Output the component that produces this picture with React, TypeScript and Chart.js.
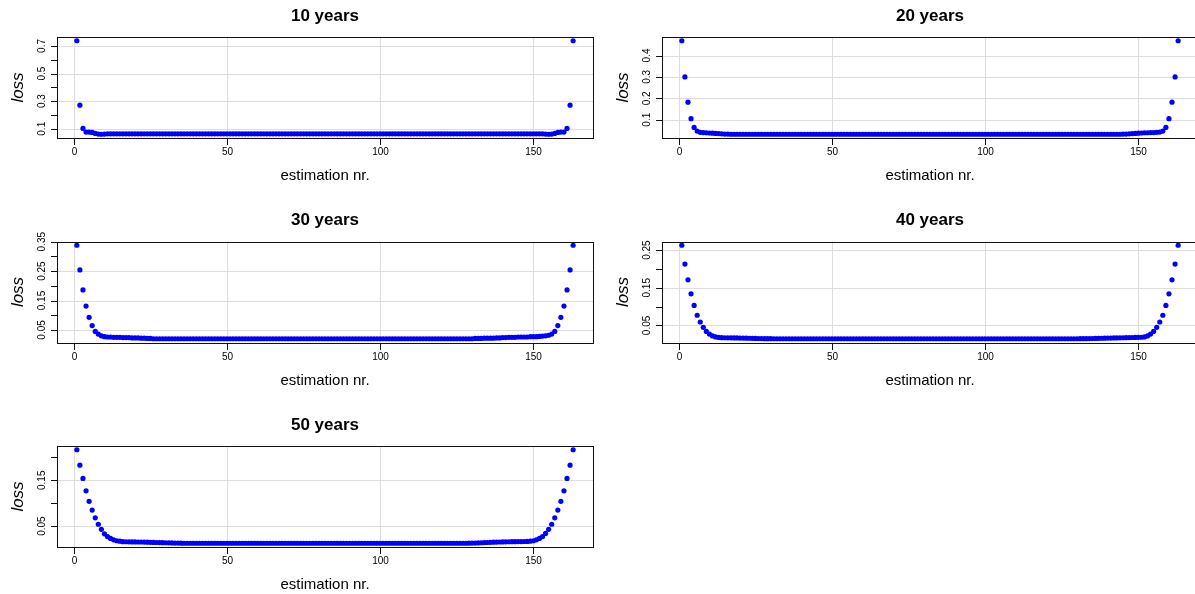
import React, { useEffect, useRef } from "react";
import { Chart, registerables } from "chart.js";

Chart.register(...registerables);

// ---------------- DATA ----------------
const panelTitles = ["10 years", "20 years", "30 years", "40 years", "50 years"];
const xTickValues = [0, 50, 100, 150];
const xAxisTitle = "estimation nr.";
const yAxisTitle = "loss";

const loss10 = [
  0.738, 0.271, 0.102, 0.076, 0.076, 0.073, 0.066, 0.061, 0.060, 0.061,
  0.063, 0.063, 0.063, 0.063, 0.063, 0.063, 0.063, 0.063, 0.063, 0.063,
  0.063, 0.063, 0.063, 0.063, 0.063, 0.063, 0.063, 0.063, 0.063, 0.063,
  0.063, 0.063, 0.063, 0.063, 0.063, 0.063, 0.063, 0.063, 0.063, 0.063,
  0.063, 0.063, 0.063, 0.063, 0.063, 0.063, 0.063, 0.063, 0.063, 0.063,
  0.063, 0.063, 0.063, 0.063, 0.063, 0.063, 0.063, 0.063, 0.063, 0.063,
  0.063, 0.063, 0.063, 0.063, 0.063, 0.063, 0.063, 0.063, 0.063, 0.063,
  0.063, 0.063, 0.063, 0.063, 0.063, 0.063, 0.063, 0.063, 0.063, 0.063,
  0.063, 0.063, 0.063, 0.063, 0.063, 0.063, 0.063, 0.063, 0.063, 0.063,
  0.063, 0.063, 0.063, 0.063, 0.063, 0.063, 0.063, 0.063, 0.063, 0.063,
  0.063, 0.063, 0.063, 0.063, 0.063, 0.063, 0.063, 0.063, 0.063, 0.063,
  0.063, 0.063, 0.063, 0.063, 0.063, 0.063, 0.063, 0.063, 0.063, 0.063,
  0.063, 0.063, 0.063, 0.063, 0.063, 0.063, 0.063, 0.063, 0.063, 0.063,
  0.063, 0.063, 0.063, 0.063, 0.063, 0.063, 0.063, 0.063, 0.063, 0.063,
  0.063, 0.063, 0.063, 0.063, 0.063, 0.063, 0.063, 0.063, 0.063, 0.063,
  0.063, 0.063, 0.063,
  0.061, 0.060, 0.061, 0.066, 0.073, 0.076, 0.076, 0.102, 0.271, 0.738,
];

const loss20 = [
  0.469, 0.300, 0.182, 0.105, 0.064, 0.047, 0.041, 0.040, 0.039, 0.038,
  0.037, 0.036, 0.035, 0.034, 0.033, 0.033,
  0.032, 0.032, 0.032, 0.032, 0.032, 0.032, 0.032, 0.032, 0.032, 0.032,
  0.032, 0.032, 0.032, 0.032, 0.032, 0.032, 0.032, 0.032, 0.032, 0.032,
  0.032, 0.032, 0.032, 0.032, 0.032, 0.032, 0.032, 0.032, 0.032, 0.032,
  0.032, 0.032, 0.032, 0.032, 0.032, 0.032, 0.032, 0.032, 0.032, 0.032,
  0.032, 0.032, 0.032, 0.032, 0.032, 0.032, 0.032, 0.032, 0.032, 0.032,
  0.032, 0.032, 0.032, 0.032, 0.032, 0.032, 0.032, 0.032, 0.032, 0.032,
  0.032, 0.032, 0.032, 0.032, 0.032, 0.032, 0.032, 0.032, 0.032, 0.032,
  0.032, 0.032, 0.032, 0.032, 0.032, 0.032, 0.032, 0.032, 0.032, 0.032,
  0.032, 0.032, 0.032, 0.032, 0.032, 0.032, 0.032, 0.032, 0.032, 0.032,
  0.032, 0.032, 0.032, 0.032, 0.032, 0.032, 0.032, 0.032, 0.032, 0.032,
  0.032, 0.032, 0.032, 0.032, 0.032, 0.032, 0.032, 0.032, 0.032, 0.032,
  0.032, 0.032, 0.032, 0.032, 0.032, 0.032, 0.032, 0.032, 0.032, 0.032,
  0.032, 0.032, 0.032, 0.032, 0.032, 0.032, 0.032, 0.032,
  0.033, 0.033, 0.034, 0.035, 0.036, 0.037, 0.038, 0.039, 0.039, 0.040,
  0.040, 0.041, 0.042, 0.047, 0.064, 0.105, 0.182, 0.300, 0.469,
];

const loss30 = [
  0.338, 0.254, 0.186, 0.131, 0.093, 0.065, 0.045, 0.036, 0.030, 0.027,
  0.026, 0.026, 0.025, 0.025, 0.025, 0.024, 0.024, 0.024, 0.023, 0.023,
  0.023, 0.022, 0.022, 0.021, 0.021,
  0.020, 0.020, 0.020, 0.020, 0.020, 0.020, 0.020, 0.020, 0.020, 0.020,
  0.020, 0.020, 0.020, 0.020, 0.020, 0.020, 0.020, 0.020, 0.020, 0.020,
  0.020, 0.020, 0.020, 0.020, 0.020, 0.020, 0.020, 0.020, 0.020, 0.020,
  0.020, 0.020, 0.020, 0.020, 0.020, 0.020, 0.020, 0.020, 0.020, 0.020,
  0.020, 0.020, 0.020, 0.020, 0.020, 0.020, 0.020, 0.020, 0.020, 0.020,
  0.020, 0.020, 0.020, 0.020, 0.020, 0.020, 0.020, 0.020, 0.020, 0.020,
  0.020, 0.020, 0.020, 0.020, 0.020, 0.020, 0.020, 0.020, 0.020, 0.020,
  0.020, 0.020, 0.020, 0.020, 0.020, 0.020, 0.020, 0.020, 0.020, 0.020,
  0.020, 0.020, 0.020, 0.020, 0.020, 0.020, 0.020, 0.020, 0.020, 0.020,
  0.020, 0.020, 0.020, 0.020, 0.020, 0.020, 0.020, 0.020, 0.020, 0.020,
  0.020, 0.020, 0.020, 0.020, 0.020,
  0.021, 0.021, 0.021, 0.022, 0.022, 0.022, 0.022, 0.023, 0.023, 0.024,
  0.024, 0.025, 0.025, 0.025, 0.026, 0.026, 0.026, 0.026, 0.027, 0.027,
  0.027, 0.028, 0.029, 0.030, 0.032, 0.036, 0.045, 0.065, 0.093, 0.131,
  0.186, 0.254, 0.338,
];

const loss40 = [
  0.263, 0.213, 0.171, 0.134, 0.103, 0.077, 0.059, 0.045, 0.034, 0.027,
  0.022, 0.0195, 0.018, 0.0175, 0.0172, 0.017, 0.017, 0.0168, 0.0166, 0.0164,
  0.0162, 0.016, 0.0158, 0.0156, 0.0154, 0.0152, 0.015, 0.0148, 0.0147, 0.0146,
  0.0145, 0.0145, 0.0145, 0.0145, 0.0145, 0.0145, 0.0145, 0.0145, 0.0145, 0.0145,
  0.0145, 0.0145, 0.0145, 0.0145, 0.0145, 0.0145, 0.0145, 0.0145, 0.0145, 0.0145,
  0.0145, 0.0145, 0.0145, 0.0145, 0.0145, 0.0145, 0.0145, 0.0145, 0.0145, 0.0145,
  0.0145, 0.0145, 0.0145, 0.0145, 0.0145, 0.0145, 0.0145, 0.0145, 0.0145, 0.0145,
  0.0145, 0.0145, 0.0145, 0.0145, 0.0145, 0.0145, 0.0145, 0.0145, 0.0145, 0.0145,
  0.0145, 0.0145, 0.0145, 0.0145, 0.0145, 0.0145, 0.0145, 0.0145, 0.0145, 0.0145,
  0.0145, 0.0145, 0.0145, 0.0145, 0.0145, 0.0145, 0.0145, 0.0145, 0.0145, 0.0145,
  0.0145, 0.0145, 0.0145, 0.0145, 0.0145, 0.0145, 0.0145, 0.0145, 0.0145, 0.0145,
  0.0145, 0.0145, 0.0145, 0.0145, 0.0145, 0.0145, 0.0145, 0.0145, 0.0145, 0.0145,
  0.0145, 0.0145, 0.0145, 0.0145, 0.0145, 0.0145, 0.0145, 0.0145, 0.0145, 0.0145,
  0.0146, 0.0147, 0.0148, 0.015, 0.0152, 0.0154, 0.0156, 0.0158, 0.016, 0.0162,
  0.0164, 0.0166, 0.0168, 0.017, 0.0172, 0.0174, 0.0176, 0.0178, 0.018, 0.0182,
  0.0185, 0.0195, 0.022, 0.027, 0.034, 0.045, 0.059, 0.077, 0.103, 0.134,
  0.171, 0.213, 0.263,
];

const loss50 = [
  0.2166, 0.183, 0.154, 0.127, 0.104, 0.085, 0.068, 0.054, 0.043, 0.033,
  0.027, 0.023, 0.020, 0.018,
  0.017, 0.016, 0.0158, 0.0156, 0.0155, 0.0154, 0.0153, 0.0152, 0.015, 0.0148,
  0.0146, 0.0144, 0.0142, 0.014, 0.0138, 0.0136, 0.0134, 0.0132, 0.013, 0.0128,
  0.0126,
  0.0125, 0.0125, 0.0125, 0.0125, 0.0125, 0.0125, 0.0125, 0.0125, 0.0125, 0.0125,
  0.0125, 0.0125, 0.0125, 0.0125, 0.0125, 0.0125, 0.0125, 0.0125, 0.0125, 0.0125,
  0.0125, 0.0125, 0.0125, 0.0125, 0.0125, 0.0125, 0.0125, 0.0125, 0.0125, 0.0125,
  0.0125, 0.0125, 0.0125, 0.0125, 0.0125, 0.0125, 0.0125, 0.0125, 0.0125, 0.0125,
  0.0125, 0.0125, 0.0125, 0.0125, 0.0125, 0.0125, 0.0125, 0.0125, 0.0125, 0.0125,
  0.0125, 0.0125, 0.0125, 0.0125, 0.0125, 0.0125, 0.0125, 0.0125, 0.0125, 0.0125,
  0.0125, 0.0125, 0.0125, 0.0125, 0.0125, 0.0125, 0.0125, 0.0125, 0.0125, 0.0125,
  0.0125, 0.0125, 0.0125, 0.0125, 0.0125, 0.0125, 0.0125, 0.0125, 0.0125, 0.0125,
  0.0125, 0.0125, 0.0125, 0.0125, 0.0125, 0.0125, 0.0125, 0.0125, 0.0125, 0.0125,
  0.0125, 0.0125, 0.0125,
  0.0126, 0.0128, 0.013, 0.0133, 0.0136, 0.0139, 0.0142, 0.0145, 0.0148, 0.015,
  0.0152, 0.0154, 0.0156, 0.0158, 0.0159, 0.016, 0.0161, 0.0162, 0.0163, 0.0165,
  0.017,
  0.018, 0.020, 0.023, 0.027, 0.034, 0.043, 0.054, 0.068, 0.085, 0.104,
  0.127, 0.154, 0.183, 0.2166,
];

const yTicks10 = [0.1, 0.2, 0.3, 0.4, 0.5, 0.6, 0.7];
const yLabels10 = [0.1, 0.3, 0.5, 0.7];
const yTicks20 = [0.1, 0.2, 0.3, 0.4];
const yLabels20 = [0.1, 0.2, 0.3, 0.4];
const yTicks30 = [0.05, 0.1, 0.15, 0.2, 0.25, 0.3, 0.35];
const yLabels30 = [0.05, 0.15, 0.25, 0.35];
const yTicks40 = [0.05, 0.1, 0.15, 0.2, 0.25];
const yLabels40 = [0.05, 0.15, 0.25];
const yTicks50 = [0.05, 0.1, 0.15, 0.2];
const yLabels50 = [0.05, 0.15];

// ---------------- LAYOUT ----------------
const CANVAS_W = 1230;
const CANVAS_H = 594;
const FONT = '"Liberation Sans", Arial, Helvetica, sans-serif';

type Panel = {
  title: string;
  values: number[];
  yTicks: number[];
  yLabels: number[];
  box: { left: number; right: number; top: number; bottom: number };
};

const COL_L = [57, 662];
const ROW_T = [37, 241.5, 446];
const BOX_W = 536;
const BOX_H = 101;

const panels: Panel[] = [
  { title: panelTitles[0], values: loss10, yTicks: yTicks10, yLabels: yLabels10, box: { left: COL_L[0], right: COL_L[0] + BOX_W, top: ROW_T[0], bottom: ROW_T[0] + BOX_H } },
  { title: panelTitles[1], values: loss20, yTicks: yTicks20, yLabels: yLabels20, box: { left: COL_L[1], right: COL_L[1] + BOX_W, top: ROW_T[0], bottom: ROW_T[0] + BOX_H } },
  { title: panelTitles[2], values: loss30, yTicks: yTicks30, yLabels: yLabels30, box: { left: COL_L[0], right: COL_L[0] + BOX_W, top: ROW_T[1], bottom: ROW_T[1] + BOX_H } },
  { title: panelTitles[3], values: loss40, yTicks: yTicks40, yLabels: yLabels40, box: { left: COL_L[1], right: COL_L[1] + BOX_W, top: ROW_T[1], bottom: ROW_T[1] + BOX_H } },
  { title: panelTitles[4], values: loss50, yTicks: yTicks50, yLabels: yLabels50, box: { left: COL_L[0], right: COL_L[0] + BOX_W, top: ROW_T[2], bottom: ROW_T[2] + BOX_H } },
];

const rStylePlugin = {
  id: "rstyle",
  beforeDatasetsDraw(chart: any, _args: any, opts: any) {
    const { ctx, chartArea: a, scales } = chart;
    const x = scales.x;
    const y = scales.y;
    ctx.save();
    ctx.strokeStyle = "#dedede";
    ctx.lineWidth = 1;
    for (const t of opts.xTicks) {
      const px = Math.round(x.getPixelForValue(t)) + 0.5;
      ctx.beginPath();
      ctx.moveTo(px, a.top);
      ctx.lineTo(px, a.bottom);
      ctx.stroke();
    }
    for (const t of opts.yLabels) {
      const py = Math.round(y.getPixelForValue(t)) + 0.5;
      ctx.beginPath();
      ctx.moveTo(a.left, py);
      ctx.lineTo(a.right, py);
      ctx.stroke();
    }
    ctx.restore();
  },
  afterDatasetsDraw(chart: any, _args: any, opts: any) {
    const { ctx, chartArea: a, scales } = chart;
    const x = scales.x;
    const y = scales.y;
    ctx.save();
    ctx.strokeStyle = "#111";
    ctx.fillStyle = "#000";
    ctx.lineWidth = 1;
    // box
    ctx.strokeRect(Math.round(a.left) + 0.5, Math.round(a.top) + 0.5, Math.round(a.right - a.left), Math.round(a.bottom - a.top));
    const bottom = Math.round(a.bottom) + 0.5;
    const left = Math.round(a.left) + 0.5;
    // x ticks
    ctx.font = `10px ${FONT}`;
    ctx.textAlign = "center";
    ctx.textBaseline = "middle";
    for (const t of opts.xTicks) {
      const px = Math.round(x.getPixelForValue(t)) + 0.5;
      ctx.beginPath();
      ctx.moveTo(px, bottom);
      ctx.lineTo(px, bottom + 6.5);
      ctx.stroke();
      ctx.fillText(String(t), px, a.bottom + 14.5);
    }
    // y ticks
    for (const t of opts.yTicks) {
      const py = Math.round(y.getPixelForValue(t)) + 0.5;
      ctx.beginPath();
      ctx.moveTo(left - 6.5, py);
      ctx.lineTo(left, py);
      ctx.stroke();
    }
    for (const t of opts.yLabels) {
      const py = y.getPixelForValue(t);
      ctx.save();
      ctx.translate(a.left - 15, py);
      ctx.rotate(-Math.PI / 2);
      ctx.fillText(String(t), 0, 0);
      ctx.restore();
    }
    // axis titles
    ctx.font = `15px ${FONT}`;
    ctx.fillText(opts.xTitle, (a.left + a.right) / 2, a.bottom + 38);
    ctx.save();
    ctx.font = `italic 17px ${FONT}`;
    ctx.translate(a.left - 39, (a.top + a.bottom) / 2);
    ctx.rotate(-Math.PI / 2);
    ctx.fillText(opts.yTitle, 0, 0);
    ctx.restore();
    // main title
    ctx.font = `bold 17px ${FONT}`;
    ctx.fillText(opts.title, (a.left + a.right) / 2, a.top - 21);
    ctx.restore();
  },
};

function PanelChart({ panel }: { panel: Panel }) {
  const ref = useRef<HTMLCanvasElement | null>(null);
  useEffect(() => {
    if (!ref.current) return;
    const vals = panel.values;
    const n = vals.length;
    const xPad = (n - 1) * 0.04;
    const yMin = Math.min(...vals);
    const yMax = Math.max(...vals);
    const yPad = (yMax - yMin) * 0.04;
    const chart = new Chart(ref.current, {
      type: "scatter",
      data: {
        datasets: [
          {
            data: vals.map((v, i) => ({ x: i + 1, y: v })),
            pointRadius: 2.6,
            pointBackgroundColor: "#0000ff",
            pointBorderWidth: 0,
            pointBorderColor: "#0000ff",
            showLine: false,
            clip: false as any,
          },
        ],
      },
      options: {
        responsive: false,
        maintainAspectRatio: false,
        animation: false,
        devicePixelRatio: 1,
        layout: {
          padding: {
            left: panel.box.left,
            top: panel.box.top,
            right: CANVAS_W - panel.box.right,
            bottom: CANVAS_H - panel.box.bottom,
          },
        },
        scales: {
          x: { type: "linear", min: 1 - xPad, max: n + xPad, display: false },
          y: { type: "linear", min: yMin - yPad, max: yMax + yPad, display: false },
        },
        plugins: {
          legend: { display: false },
          tooltip: { enabled: false },
          rstyle: {
            xTicks: xTickValues,
            yTicks: panel.yTicks,
            yLabels: panel.yLabels,
            title: panel.title,
            xTitle: xAxisTitle,
            yTitle: yAxisTitle,
          },
        } as any,
      },
      plugins: [rStylePlugin as any],
    });
    return () => chart.destroy();
  }, [panel]);
  return (
    <canvas
      ref={ref}
      width={CANVAS_W}
      height={CANVAS_H}
      style={{ position: "absolute", left: 0, top: 0, width: CANVAS_W, height: CANVAS_H }}
    />
  );
}

export default function App() {
  return (
    <div
      style={{
        position: "absolute",
        left: 0,
        top: 0,
        width: 1195,
        height: 594,
        overflow: "hidden",
        background: "#ffffff",
      }}
    >
      {panels.map((p) => (
        <PanelChart key={p.title} panel={p} />
      ))}
    </div>
  );
}
